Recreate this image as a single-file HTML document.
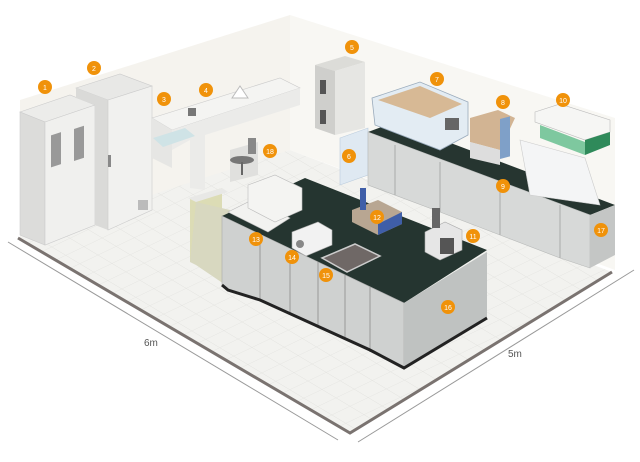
<!DOCTYPE html>
<html><head><meta charset="utf-8"><style>
html,body{margin:0;padding:0;background:#fff;}
svg{display:block}
text{font-family:"Liberation Sans",sans-serif;}
</style></head><body>
<svg width="640" height="462" viewBox="0 0 640 462" xmlns="http://www.w3.org/2000/svg">
<defs>
<pattern id="tile" width="14" height="14" patternUnits="userSpaceOnUse" patternTransform="matrix(1,0.6,-1.3,0.62,0,0)">
<rect width="14" height="14" fill="#f2f2ef"/><path d="M0 0H14M0 0V14" stroke="#e2e2de" stroke-width="0.7"/>
</pattern>
</defs>
<!-- walls -->
<polygon points="20,100 290,15 290,150 20,240" fill="#f5f3ee"/>
<polygon points="290,15 615,118 615,270 290,150" fill="#f8f7f3"/>
<!-- floor -->
<polygon points="18,238 290,150 612,272 350,433" fill="url(#tile)"/>
<polyline points="18,238 350,433 612,272" fill="none" stroke="#7a7370" stroke-width="3"/>
<!-- dimension lines -->
<line x1="8" y1="242" x2="338" y2="440" stroke="#999" stroke-width="1"/>
<line x1="358" y1="442" x2="634" y2="270" stroke="#999" stroke-width="1"/>
<text x="144" y="346" font-size="10" fill="#555">6m</text>
<text x="508" y="357" font-size="10" fill="#555">5m</text>

<!-- cabinet 1 -->
<polygon points="20,112 70,95 95,105 45,122" fill="#ececea" stroke="#ccc" stroke-width=".6"/>
<polygon points="20,112 45,122 45,245 20,235" fill="#dcdcda" stroke="#ccc" stroke-width=".6"/>
<polygon points="45,122 95,105 95,225 45,245" fill="#f0f0ee" stroke="#ccc" stroke-width=".6"/>
<rect x="51" y="135" width="10" height="32" fill="#999" transform="skewY(-18) translate(0,17)"/>
<rect x="74" y="128" width="10" height="32" fill="#999" transform="skewY(-18) translate(0,25)"/>
<!-- freezer 2 -->
<polygon points="76,88 120,74 152,86 108,100" fill="#e8e8e6" stroke="#ccc" stroke-width=".6"/>
<polygon points="76,88 108,100 108,230 95,225 95,105 76,98" fill="#dadad8"/>
<polygon points="108,100 152,86 152,210 108,230" fill="#f1f1ef" stroke="#ccc" stroke-width=".6"/>
<rect x="108" y="155" width="3" height="12" fill="#888"/>
<rect x="138" y="200" width="10" height="10" fill="#bbb"/>
<!-- bench 3/4 -->
<polygon points="152,118 280,78 300,88 172,130" fill="#f4f4f2" stroke="#ccc" stroke-width=".6"/>
<polygon points="152,118 172,130 172,168 152,158" fill="#e6e6e4"/>
<polygon points="172,130 300,88 300,105 205,135 205,190 190,188 190,140 172,150" fill="#ebebe9"/>
<polygon points="153,138 185,128 195,136 163,147" fill="#cfe3e6"/>
<rect x="188" y="108" width="8" height="8" fill="#777"/>
<polygon points="232,98 240,86 248,98" fill="#fff" stroke="#bbb"/>
<polygon points="230,150 258,142 258,175 230,182" fill="#e0e0de"/>
<!-- chair 18 -->
<ellipse cx="242" cy="160" rx="12" ry="4" fill="#777"/>
<rect x="248" y="138" width="8" height="16" fill="#888"/>
<line x1="242" y1="162" x2="242" y2="175" stroke="#666" stroke-width="2"/>
<!-- incubator 5/6 -->
<polygon points="315,65 345,56 365,62 335,71" fill="#dcdcd8"/>
<polygon points="315,65 335,71 335,135 315,128" fill="#cfcfcc"/>
<polygon points="335,71 365,62 365,128 335,135" fill="#e6e6e3"/>
<rect x="320" y="80" width="6" height="14" fill="#555"/>
<rect x="320" y="110" width="6" height="14" fill="#555"/>
<polygon points="340,138 368,128 368,175 340,185" fill="#dfe9f2" stroke="#bcd" stroke-width=".6"/>
<!-- back counter -->
<polygon points="368,132 395,122 615,205 590,215" fill="#263530"/>
<polygon points="368,132 590,215 590,268 560,258 500,235 440,212 368,185" fill="#d7d9d8" stroke="#b8bab9" stroke-width=".6"/>
<polygon points="590,215 615,205 615,255 590,268" fill="#c4c6c5"/>
<line x1="395" y1="145" x2="395" y2="195" stroke="#aaa"/><line x1="440" y1="162" x2="440" y2="212" stroke="#aaa"/>
<line x1="500" y1="185" x2="500" y2="235" stroke="#aaa"/><line x1="560" y1="205" x2="560" y2="258" stroke="#aaa"/>
<!-- 7 -->
<polygon points="372,98 420,82 468,102 468,135 440,150 375,125" fill="#e3ecf3" stroke="#9ab" stroke-width=".8"/>
<polygon points="378,100 420,86 462,104 430,118" fill="#d7b995"/>
<rect x="445" y="118" width="14" height="12" fill="#666"/>
<!-- 8 -->
<polygon points="470,118 498,110 515,118 500,150 470,142" fill="#d2b493"/>
<polygon points="470,142 500,150 500,165 470,158" fill="#ddd"/>
<rect x="500" y="118" width="10" height="40" fill="#7fa0c8" transform="skewY(-15) translate(0,135)"/>
<!-- 10 fume hood -->
<polygon points="535,112 560,104 610,120 610,132 585,140 535,122" fill="#f6f6f4" stroke="#bbb" stroke-width=".6"/>
<polygon points="585,140 610,132 610,145 585,155" fill="#2f8a5a"/>
<polygon points="540,125 585,142 585,155 540,138" fill="#7ec89f"/>
<polygon points="520,140 585,158 600,205 530,195" fill="#f4f5f6" stroke="#ccc" stroke-width=".6"/>
<!-- island -->
<polygon points="190,198 222,188 222,256 190,262" fill="#dcdcb5"/>
<polygon points="188,198 222,188 228,192 196,202" fill="#e8e8e6"/>
<polygon points="196,202 230,210 230,288 196,265 190,262" fill="#d8d8c0"/>
<polygon points="222,216 305,178 487,250 404,303" fill="#253530"/>
<polygon points="222,216 404,303 404,368 370,350 260,300 228,290 222,285" fill="#cfd1d0" stroke="#aaa" stroke-width=".6"/>
<polygon points="404,303 487,252 487,318 404,368" fill="#bfc2c1"/>
<line x1="260" y1="235" x2="260" y2="300" stroke="#999"/><line x1="290" y1="250" x2="290" y2="314" stroke="#999"/>
<line x1="318" y1="262" x2="318" y2="327" stroke="#999"/><line x1="345" y1="275" x2="345" y2="340" stroke="#999"/>
<line x1="370" y1="287" x2="370" y2="352" stroke="#999"/>
<polyline points="222,285 228,290 260,300 370,350 404,368 487,318" fill="none" stroke="#222" stroke-width="3"/>
<!-- island equipment -->
<polygon points="228,212 252,200 290,218 268,232" fill="#f2f2f0" stroke="#bbb" stroke-width=".6"/>
<polygon points="248,185 275,175 302,188 302,210 275,222 248,208" fill="#f4f4f2" stroke="#bbb" stroke-width=".6"/>
<polygon points="292,232 318,222 332,230 332,245 306,256 292,248" fill="#f2f2f2" stroke="#aaa" stroke-width=".6"/>
<circle cx="300" cy="244" r="4" fill="#888"/>
<polygon points="322,258 355,244 380,256 347,272" fill="#6f6866" stroke="#ccc" stroke-width="1.5"/>
<polygon points="352,210 378,200 402,212 402,224 378,235 352,222" fill="#b8a692"/>
<polygon points="378,224 402,212 402,224 378,235" fill="#3f5ea8"/>
<rect x="360" y="188" width="6" height="22" fill="#3f5ea8"/>
<polygon points="425,232 445,222 462,230 462,250 440,260 425,252" fill="#e6e6e6" stroke="#aaa" stroke-width=".6"/>
<rect x="432" y="208" width="8" height="20" fill="#666"/>
<rect x="440" y="238" width="14" height="16" fill="#555"/>
<!-- labels -->
<g fill="#f0920a">
<circle cx="45" cy="87" r="7"/><circle cx="94" cy="68" r="7"/><circle cx="164" cy="99" r="7"/><circle cx="206" cy="90" r="7"/>
<circle cx="352" cy="47" r="7"/><circle cx="349" cy="156" r="7"/><circle cx="437" cy="79" r="7"/><circle cx="503" cy="102" r="7"/>
<circle cx="503" cy="186" r="7"/><circle cx="563" cy="100" r="7"/><circle cx="473" cy="236" r="7"/><circle cx="377" cy="217" r="7"/>
<circle cx="256" cy="239" r="7"/><circle cx="292" cy="257" r="7"/><circle cx="326" cy="275" r="7"/><circle cx="448" cy="307" r="7"/>
<circle cx="601" cy="230" r="7"/><circle cx="270" cy="151" r="7"/>
</g>
<g fill="#fff" font-size="7" text-anchor="middle">
<text x="45" y="90">1</text><text x="94" y="71">2</text><text x="164" y="102">3</text><text x="206" y="93">4</text>
<text x="352" y="50">5</text><text x="349" y="159">6</text><text x="437" y="82">7</text><text x="503" y="105">8</text>
<text x="503" y="189">9</text><text x="563" y="103">10</text><text x="473" y="239">11</text><text x="377" y="220">12</text>
<text x="256" y="242">13</text><text x="292" y="260">14</text><text x="326" y="278">15</text><text x="448" y="310">16</text>
<text x="601" y="233">17</text><text x="270" y="154">18</text>
</g>
</svg>
</body></html>
